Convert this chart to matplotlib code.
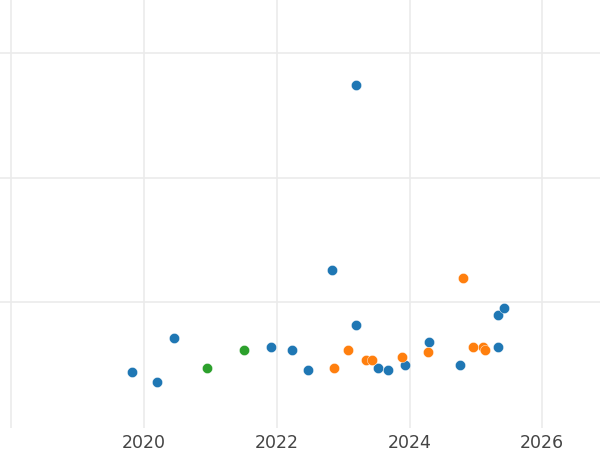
import numpy as np
import matplotlib.pyplot as plt

# points (x = decimal year, y = value)
blue_x = [2019.82, 2020.19, 2020.45, 2021.92, 2022.23, 2022.47, 2022.83, 2023.20,
          2023.20, 2023.53, 2023.68, 2023.93, 2024.30, 2024.76, 2025.33, 2025.34, 2025.43]
blue_y = [43.8, 35.5, 71.6, 63.6, 61.7, 45.6, 125.7, 81.5,
          274.3, 47.5, 45.6, 49.4, 67.6, 49.4, 63.6, 89.6, 95.4]

orange_x = [2022.86, 2023.07, 2023.34, 2023.43, 2023.88, 2024.28, 2024.81, 2024.96, 2025.10, 2025.14]
orange_y = [47.5, 61.7, 53.7, 53.7, 55.6, 59.6, 119.5, 63.6, 63.6, 61.4]

green_x = [2020.95, 2021.51]
green_y = [47.5, 61.7]

xticks = [2018, 2020, 2022, 2024, 2026]
yticks = [100, 200, 300]

fig = plt.figure(figsize=(6, 4.5), dpi=100)
ax = fig.add_axes([0, 0.049, 1, 0.951])

for xs, ys, c in [(blue_x, blue_y, '#1f77b4'), (orange_x, orange_y, '#ff7f0e'), (green_x, green_y, '#2ca02c')]:
    ax.scatter(xs, ys, s=54, color=c, edgecolor='white', linewidth=0.3, zorder=3)

ax.set_xlim(2017.83, 2026.87)
ax.set_ylim(-1, 342.5)
ax.set_xticks(xticks)
ax.set_xticklabels(['', '2020', '2022', '2024', '2026'])
ax.set_yticks(yticks)
ax.set_yticklabels([])
ax.grid(True, color='#ebebeb', linewidth=1.2)
ax.set_axisbelow(True)
for s in ax.spines.values():
    s.set_visible(False)
ax.tick_params(length=0, labelsize=12.5, labelcolor='#444444', pad=4)

fig.savefig('out.png', dpi=100)
